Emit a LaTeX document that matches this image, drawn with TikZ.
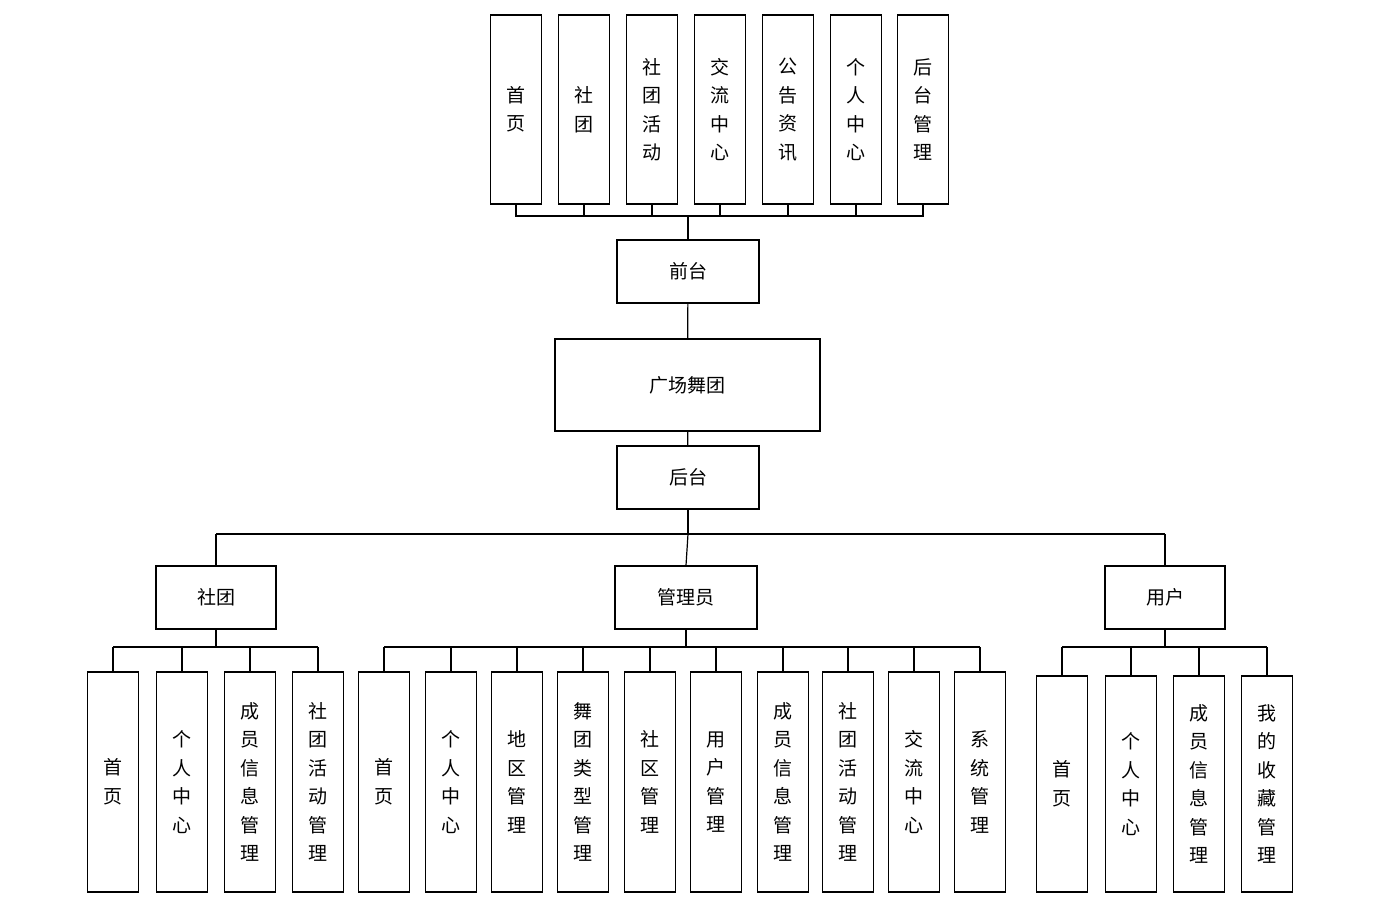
\documentclass[tikz,border=0pt]{standalone}
\usepackage{fontspec}
\setmainfont{Noto Sans CJK SC}
\begin{document}
\begin{tikzpicture}[x=1pt,y=-1pt,
 box/.style={draw,line width=1.2pt,inner sep=0pt,align=center,font=\fontsize{19}{28.5}\selectfont},
 ln/.style={line width=1.2pt}]
\useasboundingbox (0,0) rectangle (1384,918);
% top row
\foreach \n/\x/\t in {t1/516/首\\页,t2/584/社\\团,t3/652/社\\团\\活\\动,t4/720/交\\流\\中\\心,t5/788/公\\告\\资\\讯,t6/856/个\\人\\中\\心,t7/923/后\\台\\管\\理}
 \node[box,minimum width=51,minimum height=189] (\n) at (\x,109.5) {\t};
\node[box,minimum width=142,minimum height=63] (qt) at (688,271.5) {前台};
\node[box,minimum width=265,minimum height=92] (gc) at (687.5,385) {广场舞团};
\node[box,minimum width=142,minimum height=63] (ht) at (688,477.5) {后台};
\node[box,minimum width=120,minimum height=63] (st) at (216,597.5) {社团};
\node[box,minimum width=142,minimum height=63] (gly) at (686,597.5) {管理员};
\node[box,minimum width=120,minimum height=63] (yh) at (1165,597.5) {用户};
\foreach \n/\x/\t in {a1/113/首\\页,a2/182/个\\人\\中\\心,a3/250/成\\员\\信\\息\\管\\理,a4/318/社\\团\\活\\动\\管\\理,
 b1/384/首\\页,b2/451/个\\人\\中\\心,b3/517/地\\区\\管\\理,b4/583/舞\\团\\类\\型\\管\\理,b5/650/社\\区\\管\\理,b6/716/用\\户\\管\\理,b7/783/成\\员\\信\\息\\管\\理,b8/848/社\\团\\活\\动\\管\\理,b9/914/交\\流\\中\\心,b10/980/系\\统\\管\\理}
 \node[box,minimum width=51,minimum height=220] (\n) at (\x,782) {\t};
\foreach \n/\x/\t in {c1/1062/首\\页,c2/1131/个\\人\\中\\心,c3/1199/成\\员\\信\\息\\管\\理,c4/1267/我\\的\\收\\藏\\管\\理}
 \node[box,minimum width=51,minimum height=216] (\n) at (\x,784) {\t};
% connectors
\foreach \n in {t1,t2,t3,t4,t5,t6,t7} \draw[ln] (\n.south) -- ++(0,12);
\draw[ln] (516,216) -- (923,216);
\draw[ln] (688,216) -- (qt.north);
\draw[ln] (qt) -- (gc);
\draw[ln] (gc) -- (ht);
\draw[ln] (ht.south) -- (688,534);
\draw[ln] (216,534) -- (1165,534);
\draw[ln] (216,534) -- (st.north);
\draw[ln] (1165,534) -- (yh.north);
\draw[ln] (688,534) -- (gly.north);
\foreach \n in {a1,a2,a3,a4,b1,b2,b3,b4,b5,b6,b7,b8,b9,b10,c1,c2,c3,c4} \draw[ln] (\n.north) -- (\n.north |- 0,647);
\draw[ln] (113,647) -- (318,647);
\draw[ln] (384,647) -- (980,647);
\draw[ln] (1062,647) -- (1267,647);
\draw[ln] (st.south) -- (216,647);
\draw[ln] (gly.south) -- (686,647);
\draw[ln] (yh.south) -- (1165,647);
\end{tikzpicture}
\end{document}
